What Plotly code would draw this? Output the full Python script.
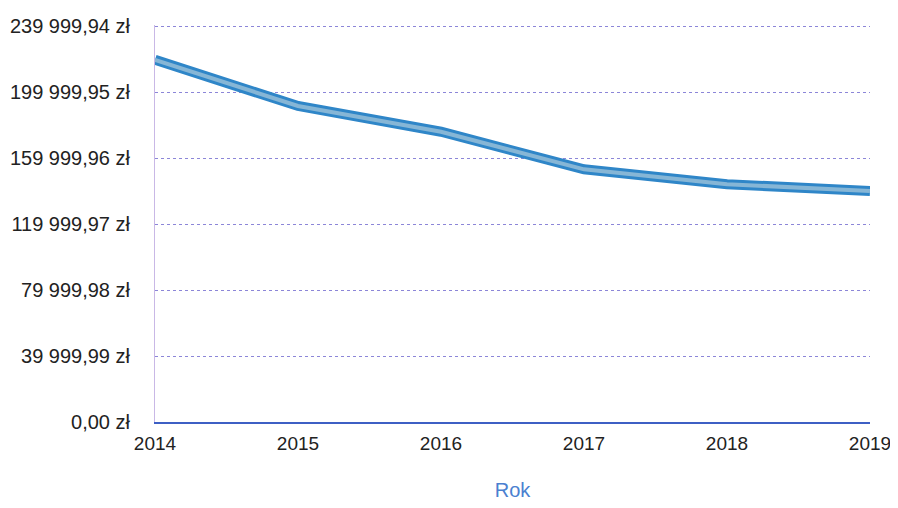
import plotly.graph_objects as go

# data
years = [2014, 2015, 2016, 2017, 2018, 2019]
values = [219600, 191600, 176000, 153200, 144200, 140000]

tick_vals = [0, 39999.99, 79999.98, 119999.97, 159999.96, 199999.95, 239999.94]
tick_text = ["0,00 zł", "39 999,99 zł", "79 999,98 zł", "119 999,97 zł",
             "159 999,96 zł", "199 999,95 zł", "239 999,94 zł"]
year_labels = ["2014", "2015", "2016", "2017", "2018", "2019"]

fig = go.Figure()

# thick blue band with a lighter core, as in the printout
fig.add_trace(go.Scatter(
    x=years, y=values, mode="lines",
    line=dict(color="#2f86c8", width=10),
    hoverinfo="skip", showlegend=False,
))
fig.add_trace(go.Scatter(
    x=years, y=values, mode="lines",
    line=dict(color="#86b6d6", width=4),
    showlegend=False,
))

# page body adds ~8px offset, so the figure is a bit smaller than the window
fig.update_layout(
    width=884, height=494,
    margin=dict(l=147, r=22, t=17, b=80),
    paper_bgcolor="white",
    plot_bgcolor="white",
    font=dict(family="Liberation Sans, Arial, sans-serif", size=20, color="#222222"),
    xaxis=dict(
        range=[2014, 2019],
        tickvals=years,
        ticktext=year_labels,
        showgrid=False,
        zeroline=False,
        showline=True,
        linecolor="#3d5fc4",
        linewidth=2,
        ticks="",
        ticklabelstandoff=3,
        automargin=False,
        tickfont=dict(size=19, color="#222222"),
        title=dict(text="Rok", font=dict(size=20, color="#4a80d0"), standoff=30),
    ),
    yaxis=dict(
        range=[0, 239999.94 * 1.003],
        tickvals=tick_vals,
        ticktext=tick_text,
        showgrid=True,
        gridcolor="#8c86d8",
        griddash="dot",
        gridwidth=1,
        zeroline=False,
        showline=True,
        linecolor="#c9b8e6",
        linewidth=1,
        ticks="",
        ticklabelstandoff=20,
        automargin=False,
        tickfont=dict(size=20, color="#222222"),
    ),
)

fig.write_html("out.html")
